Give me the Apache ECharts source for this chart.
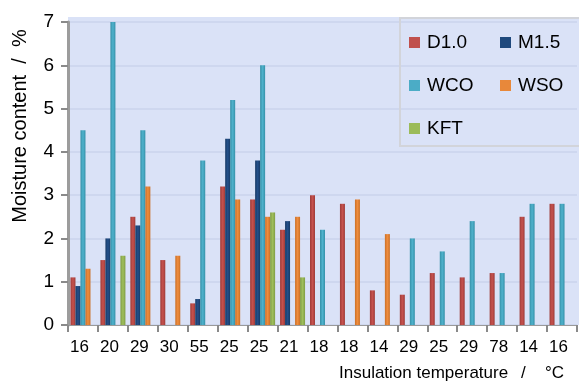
<!DOCTYPE html>
<html>
<head>
<meta charset="utf-8">
<script src="https://cdn.jsdelivr.net/npm/echarts@6/dist/echarts.min.js"></script>
<style>
  html, body { margin: 0; padding: 0; background: #ffffff; }
  #chart { width: 579px; height: 383px; }
</style>
</head>
<body>
<div id="chart"></div>
<script>
// Insulation temperature (°C) of each sample
const categories = ['16', '20', '29', '30', '55', '25', '25', '21', '18', '18', '14', '29', '25', '29', '78', '14', '16'];

// Moisture content (%) per oil type; null = not measured
const d10 = [1.1, 1.5, 2.5, 1.5, 0.5, 3.2, 2.9, 2.2, 3.0, 2.8, 0.8, 0.7, 1.2, 1.1, 1.2, 2.5, 2.8];
const m15 = [0.9, 2.0, 2.3, null, 0.6, 4.3, 3.8, 2.4, null, null, null, null, null, null, null, null, null];
const wco = [4.5, 7.0, 4.5, null, 3.8, 5.2, 6.0, null, 2.2, null, null, 2.0, 1.7, 2.4, 1.2, 2.8, 2.8];
const wso = [1.3, null, 3.2, 1.6, null, 2.9, 2.5, 2.5, null, 2.9, 2.1, null, null, null, null, null, null];
const kft = [null, 1.6, null, null, null, null, 2.6, 1.1, null, null, null, null, null, null, null, null, null];

const yTicks = [0, 1, 2, 3, 4, 5, 6, 7];

const FONT = '"Liberation Sans", Arial, sans-serif';

function shade(base, edge) {
  return new echarts.graphic.LinearGradient(0, 0, 1, 0, [
    { offset: 0, color: edge },
    { offset: 0.5, color: base },
    { offset: 1, color: edge }
  ]);
}

const seriesDefs = [
  { name: 'D1.0', data: d10, base: '#c6524e', edge: '#9e3b38', flat: '#c0504d' },
  { name: 'M1.5', data: m15, base: '#23508a', edge: '#173a66', flat: '#1f497d' },
  { name: 'WCO', data: wco, base: '#4fb2cc', edge: '#3590a8', flat: '#4bacc6' },
  { name: 'WSO', data: wso, base: '#f08d3e', edge: '#c96f27', flat: '#e8883a' },
  { name: 'KFT', data: kft, base: '#9fbf5c', edge: '#7f9c44', flat: '#9bbb59' }
];

function legendItems(names) {
  return names.map(n => {
    const s = seriesDefs.find(d => d.name === n);
    return { name: n, itemStyle: { color: s.flat } };
  });
}

const chart = echarts.init(document.getElementById('chart'), null, { renderer: 'canvas' });

const legendCommon = {
  orient: 'vertical',
  padding: 0,
  itemWidth: 11,
  itemHeight: 11,
  itemGap: 24,
  icon: 'rect',
  textStyle: { fontFamily: FONT, fontSize: 19, color: '#000', lineHeight: 18, padding: [0, 0, 0, 2] }
};

const axisTitleStyle = { fontFamily: FONT, fontSize: 17, fill: '#000', verticalAlign: 'middle' };

chart.setOption({
  animation: false,
  backgroundColor: '#ffffff',
  grid: { left: 68, right: 2, top: 22, bottom: 58, containLabel: false },
  graphic: {
    elements: [
      {
        type: 'rect', z: -1, silent: true,
        shape: { x: 68, y: 17, width: 511, height: 308 },
        style: { fill: '#dae2f7' }
      },
      {
        type: 'rect', z: 5, silent: true,
        shape: { x: 400, y: 18, width: 190, height: 128 },
        style: { fill: 'none', stroke: '#d2d4da', lineWidth: 2 }
      },
      {
        type: 'text', z: 5, silent: true,
        x: 20, y: 126, rotation: Math.PI / 2,
        style: {
          text: 'Moisture content  /  %',
          fontFamily: FONT, fontSize: 20, fill: '#000',
          align: 'center', verticalAlign: 'middle'
        }
      },
      // x axis title, laid out in three pieces with wide gaps
      {
        type: 'group', silent: true, x: 339, y: 373,
        children: [
          { type: 'text', z: 5, x: 0, y: 0, style: Object.assign({ text: 'Insulation temperature', align: 'left' }, axisTitleStyle) },
          { type: 'text', z: 5, x: 182, y: 0, style: Object.assign({ text: '/', align: 'left' }, axisTitleStyle) },
          { type: 'text', z: 5, x: 206, y: 0, style: Object.assign({ text: '°C', align: 'left' }, axisTitleStyle) }
        ]
      }
    ]
  },
  legend: [
    Object.assign({ left: 409, top: 33, data: legendItems(['D1.0', 'WCO', 'KFT']) }, legendCommon),
    Object.assign({ left: 500, top: 33, data: legendItems(['M1.5', 'WSO']) }, legendCommon)
  ],
  xAxis: {
    type: 'category',
    data: categories,
    axisLine: { show: true, lineStyle: { color: '#9a9a9a', width: 1 } },
    axisTick: { show: true, length: 7, lineStyle: { color: '#8a8a8a', width: 2 } },
    axisLabel: { interval: 0, fontFamily: FONT, fontSize: 17, color: '#000', margin: 14, padding: [0, 7, 0, 0] },
    splitLine: { show: false }
  },
  yAxis: {
    type: 'value',
    min: yTicks[0],
    max: yTicks[yTicks.length - 1],
    interval: 1,
    axisLine: { show: true, lineStyle: { color: '#9c9c9c', width: 3 } },
    axisTick: { show: true, length: 7, lineStyle: { color: '#8a8a8a', width: 2 } },
    axisLabel: { fontFamily: FONT, fontSize: 19, color: '#000', margin: 14 },
    splitLine: { show: true, lineStyle: { color: '#cad3ec', width: 1.5 } }
  },
  series: seriesDefs.map(s => ({
    name: s.name,
    type: 'bar',
    data: s.data,
    barWidth: 5,
    barGap: '0%',
    itemStyle: { color: shade(s.base, s.edge) },
    emphasis: { disabled: true }
  }))
});
</script>
</body>
</html>
